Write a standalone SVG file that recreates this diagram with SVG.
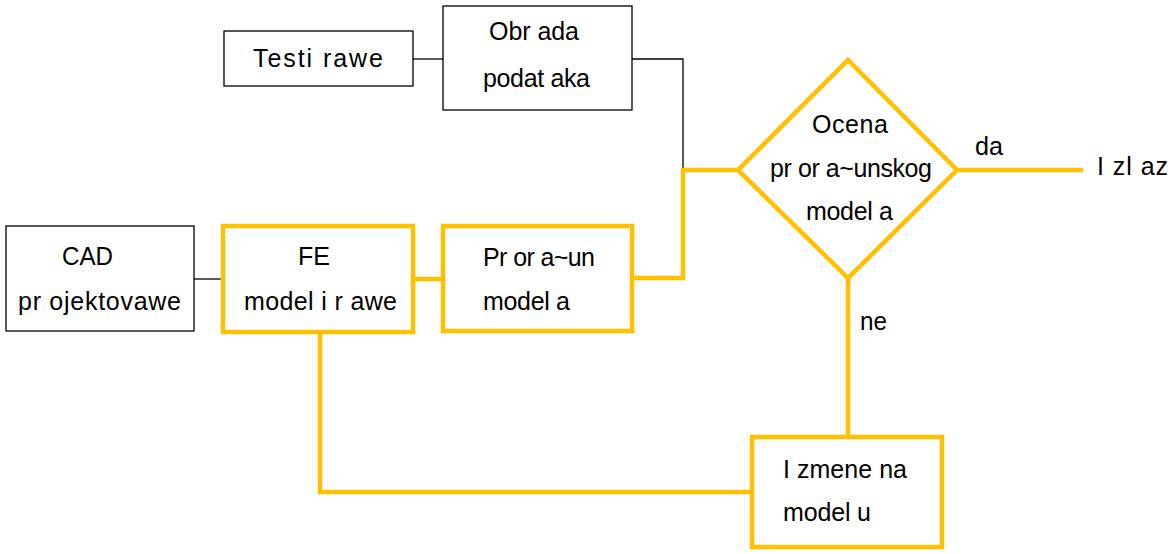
<svg xmlns="http://www.w3.org/2000/svg" width="1174" height="554" viewBox="0 0 1174 554">
<style>
.t{font-family:"Liberation Sans",Arial,sans-serif;font-size:25px;fill:#000}
.bk{fill:#fff;stroke:#000;stroke-width:1.3}
.yl{fill:#fff;stroke:#FFC000;stroke-width:4.5}
.lk{fill:none;stroke:#000;stroke-width:1.3}
.ly{fill:none;stroke:#FFC000;stroke-width:4.5}
</style>
<rect width="1174" height="554" fill="#fff"/>
<g id="connectors">
<path class="lk" d="M413 59H443"/>
<path class="lk" d="M632 59H683V170"/>
<path class="lk" d="M194 279H223"/>
<path class="ly" d="M413 279H443"/>
<path class="ly" d="M632 278H683V170H738"/>
<path class="ly" d="M957 170H1083"/>
<path class="ly" d="M848 278V437"/>
<path class="ly" d="M320 332V492H752"/>
<text class="t" x="975" y="155" textLength="28" lengthAdjust="spacingAndGlyphs">da</text>
<text class="t" x="860" y="330" textLength="27" lengthAdjust="spacingAndGlyphs">ne</text>
</g>
<g id="testirawe">
<rect class="bk" x="224" y="31" width="189" height="55"/>
<text class="t" x="253" y="67" textLength="130">Testi rawe</text>
</g>
<g id="obrada">
<rect class="bk" x="443" y="6" width="189" height="104"/>
<text class="t" x="489" y="40" textLength="90">Obr ada</text>
<text class="t" x="483" y="87" textLength="107">podat aka</text>
</g>
<g id="cad">
<rect class="bk" x="6" y="226" width="188" height="105"/>
<text class="t" x="62" y="265" textLength="51" lengthAdjust="spacingAndGlyphs">CAD</text>
<text class="t" x="18" y="310" textLength="163">pr ojektovawe</text>
</g>
<g id="fe">
<rect class="yl" x="223" y="226" width="190" height="106"/>
<text class="t" x="298" y="265" textLength="32" lengthAdjust="spacingAndGlyphs">FE</text>
<text class="t" x="244" y="310" textLength="153">model i r awe</text>
</g>
<g id="proracun">
<rect class="yl" x="443" y="226" width="189" height="105"/>
<text class="t" x="483" y="266" textLength="112">Pr or a~un</text>
<text class="t" x="483" y="310" textLength="87">model a</text>
</g>
<g id="ocena">
<path class="yl" d="M738 170L848 60L957 170L848 278Z"/>
<text class="t" x="812" y="133" textLength="76">Ocena</text>
<text class="t" x="770" y="177" textLength="162">pr or a~unskog</text>
<text class="t" x="806" y="220" textLength="87">model a</text>
</g>
<g id="izlaz">
<text class="t" x="1097" y="175" textLength="71">I zl az</text>
</g>
<g id="izmene">
<rect class="yl" x="752" y="437" width="190" height="110"/>
<text class="t" x="783" y="478" textLength="124">I zmene na</text>
<text class="t" x="783" y="521" textLength="88">model u</text>
</g>
</svg>
